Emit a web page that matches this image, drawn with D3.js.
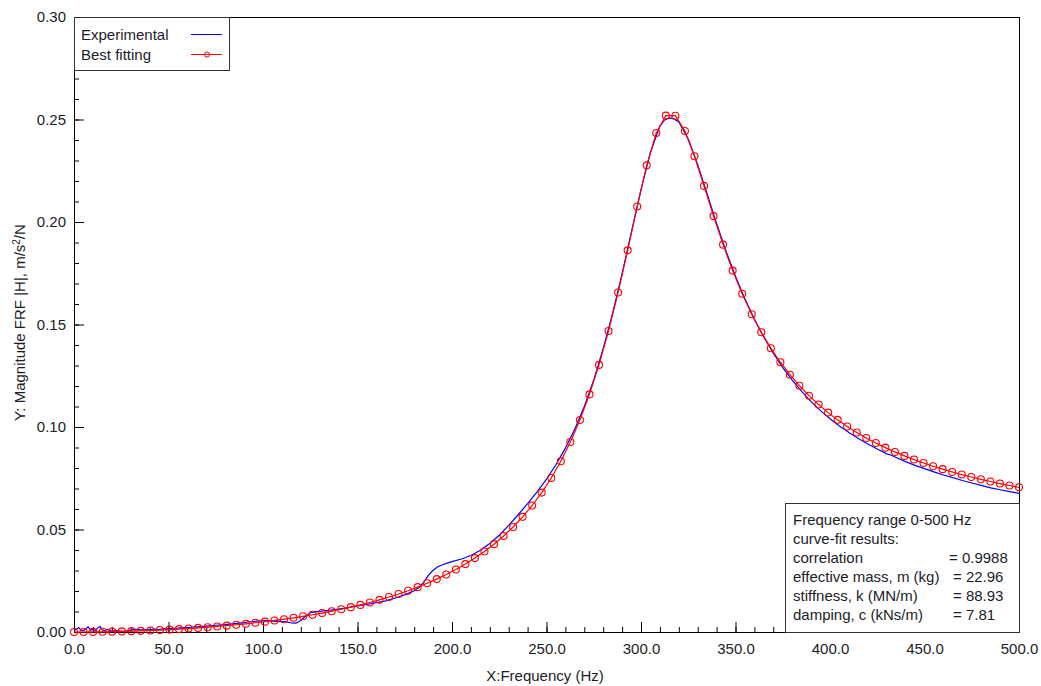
<!DOCTYPE html>
<html>
<head>
<meta charset="utf-8">
<script src="https://cdn.jsdelivr.net/npm/d3@7"></script>
<style>
  body { margin: 0; background: #fff; }
  text { font-family: "Liberation Sans", Arial, sans-serif; fill: #1c1c28; }
</style>
</head>
<body>
<div id="chart"></div>
<script>
// Best fitting curve (SDOF fit)
const fitFreq = [0, 5.05, 10.10, 15.15, 20.20, 25.25, 30.30, 35.35, 40.40, 45.45,
  50.51, 55.56, 60.61, 65.66, 70.71, 75.76, 80.81, 85.86, 90.91, 95.96,
  101.01, 106.06, 111.11, 116.16, 121.21, 126.26, 131.31, 136.36, 141.41, 146.46,
  151.52, 156.57, 161.62, 166.67, 171.72, 176.77, 181.82, 186.87, 191.92, 196.97,
  202.02, 207.07, 212.12, 217.17, 222.22, 227.27, 232.32, 237.37, 242.42, 247.47,
  252.53, 257.58, 262.63, 267.68, 272.73, 277.78, 282.83, 287.88, 292.93, 297.98,
  303.03, 308.08, 313.13, 318.18, 323.23, 328.28, 333.33, 338.38, 343.43, 348.48,
  353.54, 358.59, 363.64, 368.69, 373.74, 378.79, 383.84, 388.89, 393.94, 398.99,
  404.04, 409.09, 414.14, 419.19, 424.24, 429.29, 434.34, 439.39, 444.44, 449.49,
  454.55, 459.60, 464.65, 469.70, 474.75, 479.80, 484.85, 489.90, 494.95, 500.00];
const fitMag = [0, 0.00001, 0.00005, 0.0001, 0.00018, 0.00029, 0.00041, 0.00056, 0.00074, 0.00094,
  0.00116, 0.00141, 0.00169, 0.00200, 0.00234, 0.00270, 0.00310, 0.00353, 0.00400, 0.00450,
  0.00505, 0.00563, 0.00625, 0.00693, 0.00765, 0.00842, 0.00925, 0.01014, 0.01110, 0.01212,
  0.01323, 0.01441, 0.01569, 0.01706, 0.01854, 0.02015, 0.02188, 0.02376, 0.02581, 0.02804,
  0.03047, 0.03313, 0.03606, 0.03929, 0.04285, 0.04681, 0.05122, 0.05616, 0.06171, 0.06800,
  0.07513, 0.08329, 0.09265, 0.10343, 0.11590, 0.13030, 0.14685, 0.16559, 0.18617, 0.20755,
  0.22764, 0.24341, 0.25190, 0.25186, 0.24437, 0.23206, 0.21760, 0.20288, 0.18896, 0.17629,
  0.16500, 0.15501, 0.14621, 0.13845, 0.13160, 0.12552, 0.12011, 0.11528, 0.11094, 0.10702,
  0.10348, 0.10026, 0.09733, 0.09465, 0.09219, 0.08993, 0.08784, 0.08590, 0.08411, 0.08244,
  0.08088, 0.07943, 0.07807, 0.07680, 0.07560, 0.07448, 0.07342, 0.07242, 0.07147, 0.07058];

// Experimental curve (blue)
const expFreq = [0, 1.25, 2.5, 3.75, 5, 6.25, 7.5, 8.75, 10, 11.25,
  12.5, 13.75, 15, 16.25, 17.5, 18.75, 20, 22.5, 25, 27.5,
  30, 32.5, 35, 37.5, 40, 42.5, 45, 47.5, 50, 52.5,
  55, 57.5, 60, 65, 70, 75, 80, 85, 90, 92.5,
  95, 97.5, 100, 102.5, 105, 107.5, 110, 112.5, 115, 117.5,
  120, 122.5, 125, 127.5, 130, 135, 140, 145, 150, 155,
  160, 165, 170, 175, 180, 182.5, 185, 187.5, 190, 192.5,
  195, 197.5, 200, 205, 210, 215, 220, 225, 230, 235,
  240, 245, 250, 255, 260, 265, 270, 275, 280, 285,
  290, 295, 300, 305, 310, 312.5, 315, 317.5, 320, 325,
  330, 335, 340, 345, 350, 355, 360, 365, 370, 375,
  380, 385, 390, 395, 400, 405, 410, 415, 420, 425,
  430, 432.5, 435, 440, 445, 450, 455, 460, 465, 470,
  475, 480, 485, 490, 495, 500];
const expMag = [0.0008, 0.0013, 0.0022, 0.0009, 0.0006, 0.0016, 0.0025, 0.0010, 0.0013, 0.0007,
  0.0019, 0.0028, 0.0011, 0.0005, 0.0014, 0.0008, 0.0004, 0.0007, 0.0003, 0.0005,
  0.0009, 0.0013, 0.0010, 0.0012, 0.0011, 0.0014, 0.0012, 0.0016, 0.0015, 0.0018,
  0.0019, 0.0021, 0.0022, 0.0025, 0.0029, 0.0033, 0.0036, 0.0041, 0.0046, 0.0050,
  0.0051, 0.0054, 0.0055, 0.0056, 0.0053, 0.0052, 0.0051, 0.0049, 0.0044, 0.0043,
  0.0056, 0.0077, 0.0094, 0.0098, 0.0101, 0.0106, 0.0112, 0.0119, 0.0127, 0.0134,
  0.0143, 0.0152, 0.0166, 0.0181, 0.0201, 0.0217, 0.0242, 0.0276, 0.0301, 0.0318,
  0.0328, 0.0336, 0.0343, 0.0356, 0.0373, 0.0399, 0.0432, 0.0472, 0.0520, 0.0572,
  0.0626, 0.0684, 0.0746, 0.0816, 0.0897, 0.0990, 0.1100, 0.1230, 0.1383, 0.1555,
  0.1748, 0.1954, 0.2158, 0.2340, 0.2468, 0.2498, 0.2508, 0.2503, 0.2488, 0.2405,
  0.2280, 0.2137, 0.1993, 0.1858, 0.1735, 0.1625, 0.1525, 0.1438, 0.1360, 0.1290,
  0.1229, 0.1174, 0.1124, 0.1080, 0.1040, 0.1005, 0.0973, 0.0944, 0.0917, 0.0893,
  0.0869, 0.0862, 0.0851, 0.0831, 0.0813, 0.0797, 0.0781, 0.0766, 0.0753, 0.0739,
  0.0727, 0.0715, 0.0703, 0.0694, 0.0685, 0.0676];

const xMajor = [0, 50, 100, 150, 200, 250, 300, 350, 400, 450, 500];
const yMajor = [0, 0.05, 0.10, 0.15, 0.20, 0.25, 0.30];
const xMinor = d3.range(0, 501, 10);
const yMinor = d3.range(0, 0.3001, 0.01);

const fitLines = [
  "Frequency range 0-500 Hz",
  "curve-fit results:",
  ["correlation", "= 0.9988"],
  ["effective mass, m (kg)", "= 22.96"],
  ["stiffness, k (MN/m)", "= 88.93"],
  ["damping, c (kNs/m)", "= 7.81"]
];

const W = 1041, H = 686;
const margin = { top: 17, right: 22, bottom: 54, left: 74 };
const fs = "15px";

const svg = d3.select("#chart").append("svg")
  .attr("width", W)
  .attr("height", H);

svg.append("rect").attr("width", W).attr("height", H).attr("fill", "#fff");

const x = d3.scaleLinear().domain([0, 500]).range([margin.left, W - margin.right]);
const y = d3.scaleLinear().domain([0, 0.3]).range([H - margin.bottom, margin.top]);

// minor ticks
svg.append("g")
  .attr("transform", `translate(0,${y(0)})`)
  .call(d3.axisBottom(x).tickValues(xMinor).tickSizeInner(-5).tickSizeOuter(0).tickFormat(""))
  .call(g => g.select(".domain").remove());
svg.append("g")
  .attr("transform", `translate(${x(0)},0)`)
  .call(d3.axisLeft(y).tickValues(yMinor).tickSizeInner(-5).tickSizeOuter(0).tickFormat(""))
  .call(g => g.select(".domain").remove());

// major ticks + labels
const xAxis = svg.append("g")
  .attr("transform", `translate(0,${y(0)})`)
  .call(d3.axisBottom(x).tickValues(xMajor).tickSizeInner(-10).tickSizeOuter(0)
    .tickPadding(11).tickFormat(d3.format(".1f")));
xAxis.select(".domain").remove();
xAxis.selectAll("text").style("font-size", fs).attr("fill", "#1c1c28");

const yAxis = svg.append("g")
  .attr("transform", `translate(${x(0)},0)`)
  .call(d3.axisLeft(y).tickValues(yMajor).tickSizeInner(-10).tickSizeOuter(0)
    .tickPadding(8).tickFormat(d3.format(".2f")));
yAxis.select(".domain").remove();
yAxis.selectAll("text").style("font-size", fs).attr("fill", "#1c1c28");

svg.selectAll(".tick line").attr("stroke", "#000");

// plot frame
svg.append("rect")
  .attr("x", x(0) + 0.5).attr("y", y(0.3) + 0.5)
  .attr("width", x(500) - x(0)).attr("height", y(0) - y(0.3))
  .attr("fill", "none").attr("stroke", "#000");

// curves
const line = d3.line().x(d => x(d[0])).y(d => y(d[1]));
const expData = expFreq.map((f, i) => [f, expMag[i]]);
const fitData = fitFreq.map((f, i) => [f, fitMag[i]]);

svg.append("path")
  .datum(expData)
  .attr("d", line)
  .attr("fill", "none")
  .attr("stroke", "#0000ff")
  .attr("stroke-width", 1.2);

svg.append("path")
  .datum(fitData)
  .attr("d", line)
  .attr("fill", "none")
  .attr("stroke", "#ff0000")
  .attr("stroke-width", 1.2);

svg.selectAll(".marker")
  .data(fitData)
  .enter()
  .append("circle")
  .attr("class", "marker")
  .attr("cx", d => x(d[0]))
  .attr("cy", d => y(d[1]))
  .attr("r", 3.5)
  .attr("fill", "none")
  .attr("stroke", "#ff0000")
  .attr("stroke-width", 1.1);

// axis titles
svg.append("text")
  .attr("x", 545)
  .attr("y", 681)
  .attr("text-anchor", "middle")
  .style("font-size", fs)
  .text("X:Frequency (Hz)");

const yTitle = svg.append("text")
  .attr("transform", `translate(25,${(y(0) + y(0.3)) / 2 - 2}) rotate(-90)`)
  .attr("text-anchor", "middle")
  .style("font-size", fs);
yTitle.append("tspan").text("Y: Magnitude FRF |H|, m/s");
yTitle.append("tspan").attr("dy", -5).style("font-size", "10px").text("2");
yTitle.append("tspan").attr("dy", 5).text("/N");

// legend
const legend = svg.append("g");
legend.append("rect")
  .attr("x", x(0) + 0.5).attr("y", y(0.3) + 0.5)
  .attr("width", 155).attr("height", 53)
  .attr("fill", "#fff").attr("stroke", "#333");
legend.append("text").attr("x", 81).attr("y", 40).style("font-size", fs).text("Experimental");
legend.append("text").attr("x", 81).attr("y", 60).style("font-size", fs).text("Best fitting");
legend.append("line").attr("x1", 191).attr("x2", 222).attr("y1", 34.5).attr("y2", 34.5)
  .attr("stroke", "#0000ff");
legend.append("line").attr("x1", 191).attr("x2", 222).attr("y1", 54.5).attr("y2", 54.5)
  .attr("stroke", "#ff0000");
legend.append("circle").attr("cx", 207).attr("cy", 54.5).attr("r", 2.5)
  .attr("fill", "none").attr("stroke", "#ff0000");

// results box
const box = svg.append("g");
box.append("rect")
  .attr("x", 785.5).attr("y", 503.5)
  .attr("width", x(500) - 785).attr("height", y(0) - 503)
  .attr("fill", "#fff").attr("stroke", "#333");
fitLines.forEach((l, i) => {
  const yy = 525 + i * 19;
  if (typeof l === "string") {
    box.append("text").attr("x", 793).attr("y", yy).style("font-size", fs).text(l);
  } else {
    box.append("text").attr("x", 793).attr("y", yy).style("font-size", fs).text(l[0]);
    box.append("text").attr("x", i === 2 ? 949 : 953).attr("y", yy).style("font-size", fs).text(l[1]);
  }
});
</script>
</body>
</html>
